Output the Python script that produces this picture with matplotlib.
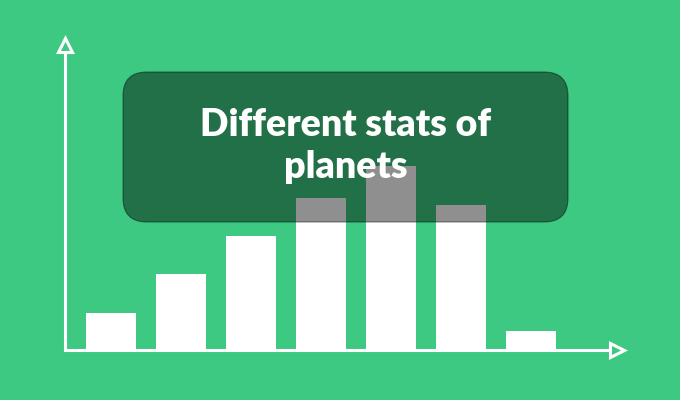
import matplotlib
matplotlib.use("Agg")
import matplotlib.pyplot as plt
from matplotlib.patches import FancyBboxPatch

# bar values (arbitrary units)
categories = ["1", "2", "3", "4", "5", "6", "7"]
values = [37, 76, 114, 152, 184, 145, 19]
title = "Different stats of\nplanets"

bg = "#3ec982"

fig = plt.figure(figsize=(6.8, 4.0), dpi=100)
fig.patch.set_facecolor(bg)

# bar axes: left spine at x=65px, baseline at y=350px, arrows beyond
ax = fig.add_axes([65 / 680, 50 / 400, 545 / 680, 298 / 400])
ax.set_facecolor(bg)
x = range(len(categories))
ax.bar(x, values, width=50 / 70, color="white", zorder=2)
ax.set_xlim(-46 / 70, (610 - 111) / 70)
ax.set_ylim(0, 298)
ax.set_xticks([])
ax.set_yticks([])
for s in ["top", "right"]:
    ax.spines[s].set_visible(False)
for s in ["left", "bottom"]:
    ax.spines[s].set_color("white")
    ax.spines[s].set_linewidth(2.2)
    ax.spines[s].set_zorder(3)

# arrow heads (open triangles)
ax.plot([0], [1 + 7 / 298], marker="^", ms=10, mfc=bg, mec="white", mew=2.2,
        transform=ax.transAxes, clip_on=False, zorder=4)
ax.plot([1 + 7 / 545], [0], marker=">", ms=10, mfc=bg, mec="white", mew=2.2,
        transform=ax.transAxes, clip_on=False, zorder=4)

# overlay for the title box, in pixel units
ov = fig.add_axes([0, 0, 1, 1])
ov.set_xlim(0, 680)
ov.set_ylim(400, 0)
ov.axis("off")
ov.patch.set_alpha(0)
box = FancyBboxPatch((123, 72), 445, 150,
                     boxstyle="round,pad=0,rounding_size=24",
                     facecolor="black", alpha=0.44, edgecolor="black", lw=0.8)
ov.add_patch(box)
ov.text(346, 146, title, ha="center", va="center", color="white",
        fontsize=27, fontweight="heavy", family=["Lato", "DejaVu Sans"],
        linespacing=1.3)

fig.savefig("out.png", dpi=100, facecolor=bg)
